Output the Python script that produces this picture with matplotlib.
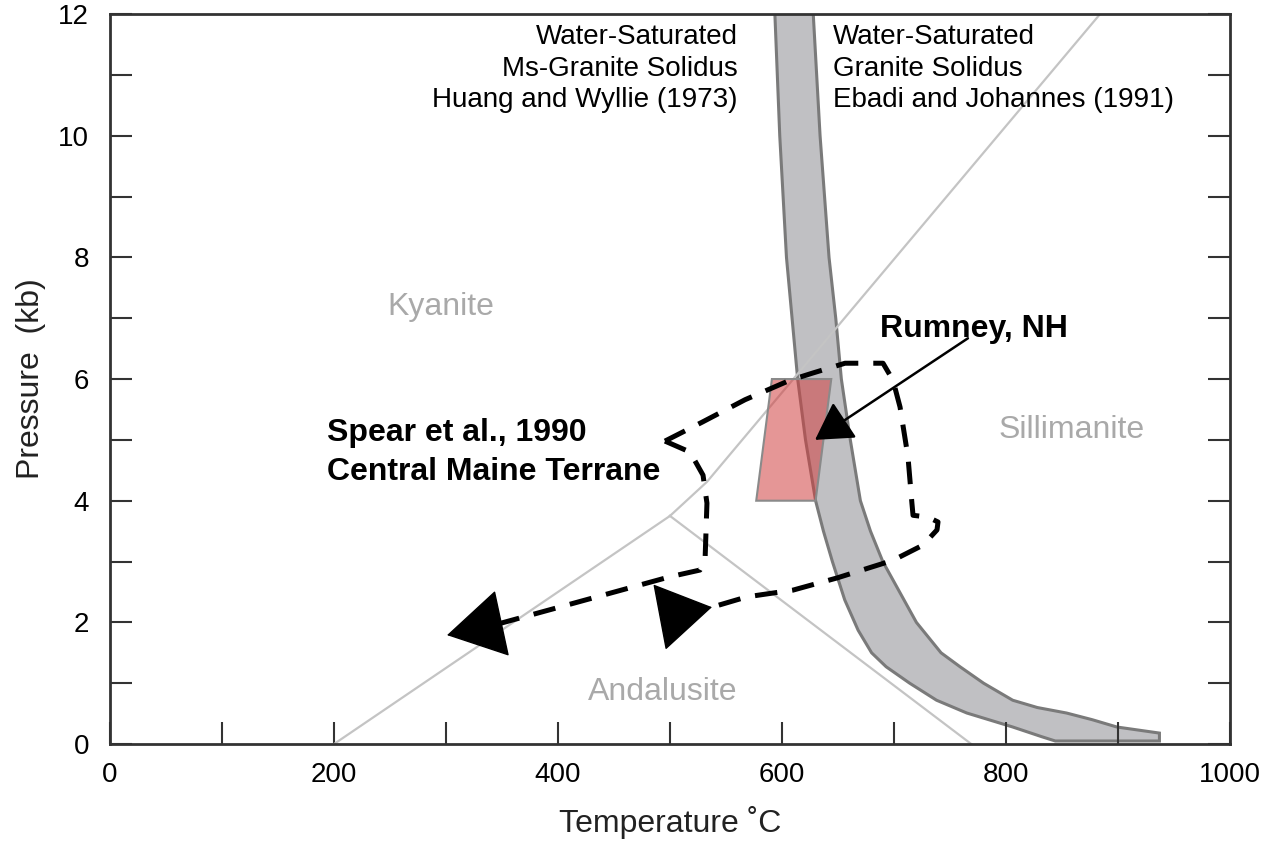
import matplotlib.pyplot as plt
import numpy as np

plt.rcParams['font.family'] = ['Liberation Sans', 'DejaVu Sans']

# eixos
temp_ticks = np.arange(0, 1001, 100)
press_ticks = np.arange(0, 13, 1)
temp_labels = [str(t) if t % 200 == 0 else '' for t in temp_ticks]
press_labels = [str(p) if p % 2 == 0 else '' for p in press_ticks]

# aluminossilicatos (T em C, P em kb)
ky_and_T = [200, 500]
ky_and_P = [0, 3.75]
and_sil_T = [500, 769]
and_sil_P = [3.75, 0]
ky_sil_T = [500, 533, 884]
ky_sil_P = [3.75, 4.31, 12]

# faixa dos solidus
sol_left_P = [12.3, 10, 8, 7, 6, 5, 4, 3.5, 3, 2.37, 1.87, 1.5, 1.27, 1.0, 0.72, 0.51, 0.28, 0.12, 0.05]
sol_left_T = [593, 598, 604, 609, 614, 621, 630, 637, 645, 656, 668, 680, 693, 714, 738, 765, 806, 832, 844]
sol_right_P = [12.3, 10, 8, 7, 6, 5, 4, 3.5, 3, 2.5, 2, 1.5, 1.27, 1.0, 0.72, 0.6, 0.51, 0.4, 0.28, 0.18, 0.05]
sol_right_T = [627, 634, 642, 648, 653, 661, 670, 679, 690, 705, 720, 742, 759, 780, 806, 828, 854, 877, 899, 937, 937]

# Rumney, NH
rumney_T = [577, 630, 644, 591]
rumney_P = [4, 4, 6, 6]

# trajetoria Spear et al. 1990
path_T = [537.5, 568.8, 609.8, 649.1, 699.1, 725.9, 738.4, 739.3, 730.4, 717, 716, 712.5, 705.4,
          699.1, 690.2, 656.3, 627.7, 607.1, 567, 528.6, 495.5, 517.9, 529.5, 533, 531.3, 526.8,
          500, 417, 343.8]
path_P = [2.25, 2.42, 2.53, 2.73, 3.02, 3.27, 3.52, 3.65, 3.73, 3.76, 3.96, 4.72, 5.54,
          5.98, 6.26, 6.26, 6.10, 5.98, 5.66, 5.29, 4.98, 4.80, 4.42, 3.96, 3.02, 2.86,
          2.75, 2.33, 1.96]
apex = 20  # indice do vertice "<"

fig = plt.figure(figsize=(12.7, 8.41), dpi=100)
ax = fig.add_axes([0.0866, 0.1153, 0.8819, 0.868])

ax.fill(sol_left_T + sol_right_T[::-1], sol_left_P + sol_right_P[::-1],
        facecolor='#c0c0c3', edgecolor='#7a7a7a', lw=2.2, zorder=1)

for T, P in [(ky_and_T, ky_and_P), (and_sil_T, and_sil_P), (ky_sil_T, ky_sil_P)]:
    ax.plot(T, P, color='#c4c4c4', lw=1.6, zorder=2)

ax.fill(rumney_T, rumney_P, facecolor=(0.82, 0.25, 0.25, 0.55),
        edgecolor='#8a8a8a', lw=1.5, zorder=3)

dash = (0, (4.5, 3))
ax.plot(path_T[apex::-1], path_P[apex::-1], color='black', lw=3.6, ls=dash, zorder=4)
ax.plot(path_T[apex:], path_P[apex:], color='black', lw=3.6, ls=dash, zorder=4)

# pontas de seta
ax.annotate('', xy=(300.9, 1.79), xytext=(path_T[-1], path_P[-1]),
            arrowprops=dict(arrowstyle='-|>,head_length=3.9,head_width=2.3',
                            mutation_scale=10, color='black', lw=1,
                            shrinkA=0, shrinkB=0), zorder=5)
ax.annotate('', xy=(path_T[0], path_P[0]), xytext=(500, 2.12),
            arrowprops=dict(arrowstyle='-|>,head_length=3.7,head_width=2.3',
                            mutation_scale=10, color='black', lw=1,
                            shrinkA=0, shrinkB=0), zorder=5)
ax.annotate('', xy=(629.5, 5.0), xytext=(766, 6.67),
            arrowprops=dict(arrowstyle='-|>,head_length=2.3,head_width=1.35',
                            mutation_scale=10, color='black', lw=1.8,
                            shrinkA=0, shrinkB=0), zorder=5)

# textos
grey = '#a9a9a9'
ax.text(295.5, 7.18, 'Kyanite', color=grey, fontsize=23, ha='center', va='center')
ax.text(859, 5.16, 'Sillimanite', color=grey, fontsize=23, ha='center', va='center')
ax.text(493.75, 0.85, 'Andalusite', color=grey, fontsize=23, ha='center', va='center')
ax.text(771.4, 6.69, 'Rumney, NH', fontsize=23, fontweight='bold', ha='center', va='baseline')
ax.text(193.75, 4.34, 'Spear et al., 1990\nCentral Maine Terrane', fontsize=23,
        fontweight='bold', ha='left', va='baseline', linespacing=1.38)
ax.text(560.7, 10.47, 'Water-Saturated\nMs-Granite Solidus\nHuang and Wyllie (1973)',
        fontsize=20, ha='right', va='baseline', linespacing=1.28)
ax.text(645.5, 10.47, 'Water-Saturated\nGranite Solidus\nEbadi and Johannes (1991)',
        fontsize=20, ha='left', va='baseline', linespacing=1.28)

ax.set_xlim(0, 1000)
ax.set_ylim(0, 12)
ax.set_xticks(temp_ticks)
ax.set_xticklabels(temp_labels)
ax.set_yticks(press_ticks)
ax.set_yticklabels(press_labels)
ax.tick_params(direction='in', length=16, width=1.5, color='#333333',
               labelsize=20, right=True, top=False)
ax.tick_params(axis='x', pad=13)
ax.tick_params(axis='y', pad=15)
for s in ax.spines.values():
    s.set_linewidth(2)
    s.set_color('#333333')

ax.set_xlabel('Temperature ˚C', fontsize=23, labelpad=13, color='#222222')
ax.set_ylabel('Pressure  (kb)', fontsize=23, labelpad=9, color='#222222')

plt.savefig('out.png', dpi=100)
